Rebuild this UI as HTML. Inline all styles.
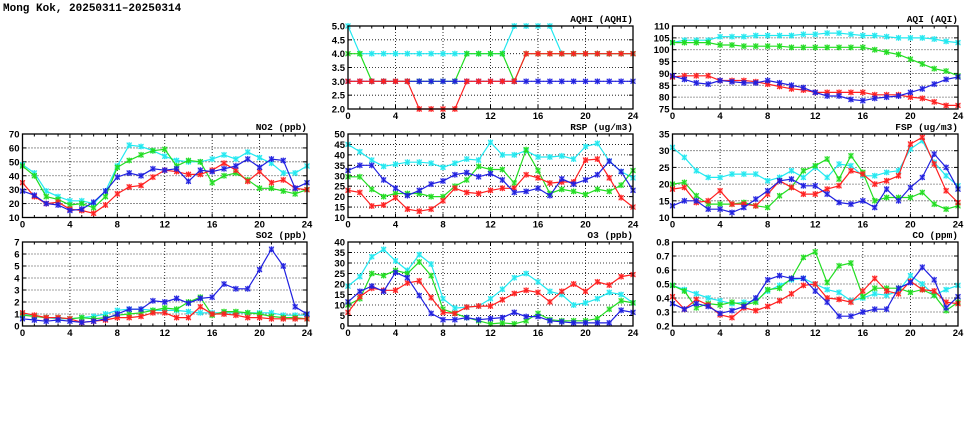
<!DOCTYPE html>
<html><head><meta charset="utf-8"><style>
body{margin:0;background:#fff;}
svg{display:block;font-family:"Liberation Sans",sans-serif;}
</style></head><body>
<svg id="s" width="975" height="447" xmlns="http://www.w3.org/2000/svg">
<text x="3" y="11" font-size="11" font-weight="bold" font-family="Liberation Mono, monospace">Mong Kok, 20250311–20250314</text>
</svg>
<script>
const C={c:'#22e8f0',g:'#22dd22',r:'#ff2020',b:'#2020e0'};
const P=[
{t:'AQHI (AQHI)',x0:348,x1:633,y0:26,y1:109,min:2,max:5,st:0.5,dec:1,ord:['c','g','b','r'],d:{
c:[5,4,4,4,4,4,4,4,4,4,4,4,4,4,5,5,5,5,4,4,4,4,4,4,4],
g:[4,4,3,3,3,3,3,3,3,3,4,4,4,4,3,4,4,4,4,4,4,4,4,4,4],
b:[3,3,3,3,3,3,3,3,3,3,3,3,3,3,3,3,3,3,3,3,3,3,3,3,3],
r:[3,3,3,3,3,3,2,2,2,2,3,3,3,3,3,4,4,4,4,4,4,4,4,4,4]}},
{t:'AQI (AQI)',x0:672.5,x1:958,y0:26,y1:109,min:75,max:110,st:5,dec:0,ord:['c','g','r','b'],d:{
c:[103,104,104,104,105.5,105.5,105.5,106,106,106,106,106.5,106.5,107,107,106.5,106,106,105.5,105,105,105,104.5,103.5,103],
g:[103,103,103,103,102,102,101.5,101.5,101.5,101.5,101,101,101,101,101,101,101,100,99,98,96,94,92,91,89],
r:[88.5,89,89,89,87,87,87,86.5,85.5,84.5,83.5,83,82,82,82,82,82,81,81,81,80,79.5,78,76.5,76.5],
b:[89,87.5,86,85.5,87,86.5,86,86,87,86,85,84,82,80.5,80.5,79,78.5,79.5,80,80.5,82,83.5,85.5,87.5,88.5]}},
{t:'NO2 (ppb)',x0:22.5,x1:307,y0:134,y1:217.5,min:10,max:70,st:10,dec:0,ord:['c','g','r','b'],d:{
c:[48,42,29,25,22,22,20,29,47,62,61,58,54,51,50,50,52,55,52,57,53,49,42,42,47],
g:[47,40,25,23,19,20,17,25,46,51,55,58,59,47,51,50,35,40,42,37,31,31,29,27,30],
r:[35,25,20,21,16,15,13,19,27,32,33,39,44,43,41,41,44,49,44,36,43,35,37,31,30],
b:[29,26,20,19,15,16,21,29,39,42,40,45,44,45,36,44,43,45,47,52,46,52,51,31,35]}},
{t:'RSP (ug/m3)',x0:348,x1:633,y0:134,y1:217.5,min:10,max:50,st:5,dec:0,ord:['c','g','r','b'],d:{
c:[45,41.5,37.5,34.5,35.5,36.5,36.5,36,34,36,38,37.5,46,40,40,42,39,39,39.5,38,44,45.5,37,32,29],
g:[29.5,29.5,23.5,20,21.5,21.5,21.5,20,20,25,28,34.5,33,33,26.5,42.5,32.5,21.5,23.5,22.5,21,23.5,22.5,25.5,32.5],
r:[23,22,15.5,16,19.5,14,13,14,18,24,22,21.5,23,24,24,30.5,29,26.5,27,27,37.5,38,29,19.5,15],
b:[32.5,35,35,28,24,20.5,23,26,27.5,30.5,31.5,29.5,31,28,22,22.5,24,20.5,28.5,26,28,30.5,37,32,23]}},
{t:'FSP (ug/m3)',x0:672.5,x1:958,y0:134,y1:217.5,min:10,max:35,st:5,dec:0,ord:['c','g','r','b'],d:{
c:[31,28,24,22,22,23,23,23,21,22,24,22,25,22,26,25.5,22.5,22.5,23.5,24,30.5,33,26.5,22.5,19.5],
g:[20,20.5,16.5,14,14,14,14.5,13.5,13,16.5,19,24,25.5,27.5,21.5,28.5,23.5,15,16,16,16,17.5,14,12.5,13.5],
r:[18.5,19,14.5,15,18,14,14,13.5,17,21,19,17,17,18.5,19.5,24,23,20,21,22.5,32,34,26,18,14.5],
b:[13.5,15,15,12.5,12.5,11.5,13,15.5,18,21,21.5,19.5,19.5,17,14.5,14,15,13,18.5,15,19,22,29,25,18.5]}},
{t:'SO2 (ppb)',x0:22.5,x1:307,y0:242,y1:326,min:0,max:7,st:1,dec:0,ord:['c','g','r','b'],d:{
c:[1,0.8,0.7,0.6,0.6,0.7,0.8,1.0,1.3,1.4,1.4,1.3,1.3,1.3,1.2,1.1,1.1,1.1,1.1,1.1,1.1,1.1,0.9,0.9,0.9],
g:[0.9,0.8,0.7,0.7,0.6,0.7,0.6,0.7,0.9,1.0,1.1,1.3,1.5,1.4,2.0,2.4,0.9,1.2,1.2,1.1,1.0,0.8,0.7,0.7,0.6],
r:[1.1,0.9,0.7,0.7,0.6,0.3,0.4,0.5,0.7,0.7,0.8,1.1,1.1,0.7,0.7,1.6,1.0,1.0,0.9,0.7,0.7,0.6,0.6,0.6,0.6],
b:[0.6,0.5,0.4,0.5,0.4,0.3,0.4,0.6,1.0,1.4,1.4,2.1,2.0,2.3,1.9,2.3,2.4,3.5,3.1,3.1,4.7,6.4,5.0,1.6,1.0]}},
{t:'O3 (ppb)',x0:348,x1:633,y0:242,y1:326,min:0,max:40,st:5,dec:0,ord:['c','g','r','b'],d:{
c:[19,23.5,33,36.5,31,26.5,34,29.5,13,8.5,9,9.5,13,17.5,23,25,21,16.5,15,10,11,13,16,15,11],
g:[10,13,25,24,26.5,25,30.5,24,8,6,4,2.5,1,1.5,1,2.5,6,3,2.5,2.5,2.5,3.5,8,12,11],
r:[6.5,14,18,17,17,20.5,21.5,13.5,6.5,6,9,9.5,9.5,12.5,15.5,17,16,11.5,16.5,20,16.5,21,19.5,23.5,24.5],
b:[11.5,16.5,19,16.5,25.5,23,14.5,6,3,3,4,3,3.5,4,6.5,4.5,4.5,2.5,2,1.5,1.5,1.5,1.5,7.5,6.5]}},
{t:'CO (ppm)',x0:672.5,x1:958,y0:242,y1:326,min:0.2,max:0.8,st:0.1,dec:1,ord:['c','g','r','b'],d:{
c:[.49,.46,.43,.40,.38,.36,.37,.38,.45,.49,.53,.54,.50,.46,.44,.38,.40,.43,.42,.45,.56,.50,.42,.46,.49],
g:[.49,.45,.33,.36,.35,.37,.35,.37,.46,.47,.54,.69,.73,.51,.63,.65,.41,.47,.47,.47,.44,.46,.42,.31,.37],
r:[.41,.32,.39,.35,.28,.26,.33,.31,.34,.38,.43,.49,.50,.40,.39,.37,.45,.54,.45,.43,.52,.46,.45,.37,.36],
b:[.36,.32,.36,.34,.29,.31,.34,.40,.53,.56,.54,.54,.45,.37,.27,.27,.30,.32,.32,.47,.51,.62,.53,.33,.41]}}
];
let h='';
P.forEach((p,i)=>{
 const W=p.x1-p.x0,H=p.y1-p.y0;
 const X=t=>p.x0+t*W/24, Y=v=>p.y1-(v-p.min)/(p.max-p.min)*H;
 h+=`<clipPath id="k${i}"><rect x="${p.x0-3}" y="${p.y0-3}" width="${W+6}" height="${H+6}"/></clipPath>`;
 // grid
 for(let t=4;t<24;t+=4){const x=X(t);h+=`<line x1="${x}" y1="${p.y0}" x2="${x}" y2="${p.y1}" stroke="#000" stroke-width="0.8" stroke-dasharray="1,2"/>`;}
 const n=Math.round((p.max-p.min)/p.st);
 for(let k=0;k<=n;k++){const v=p.min+k*p.st,y=Y(v);
  if(k>0&&k<n)h+=`<line x1="${p.x0}" y1="${y}" x2="${p.x1}" y2="${y}" stroke="#000" stroke-width="0.8" stroke-dasharray="1,2"/>`;
  h+=`<line x1="${p.x0}" y1="${y}" x2="${p.x0+4}" y2="${y}" stroke="#000"/><line x1="${p.x1-4}" y1="${y}" x2="${p.x1}" y2="${y}" stroke="#000"/>`;
  h+=`<text x="${p.x0-3}" y="${y+3.5}" font-size="9.5" font-weight="bold" text-anchor="end">${v.toFixed(p.dec)}</text>`;}
 for(let t=0;t<=24;t++){const x=X(t),l=t%4==0?4:2.5;
  h+=`<line x1="${x}" y1="${p.y1}" x2="${x}" y2="${p.y1-l}" stroke="#000"/><line x1="${x}" y1="${p.y0}" x2="${x}" y2="${p.y0+l}" stroke="#000"/>`;
  if(t%4==0)h+=`<text x="${x}" y="${p.y1+10}" font-size="9.5" font-weight="bold" text-anchor="middle">${t}</text>`;}
 h+=`<text x="${p.x1}" y="${p.y0-4}" font-size="9.5" font-weight="bold" text-anchor="end" font-family="Liberation Mono, monospace">${p.t}</text>`;
 h+=`<g clip-path="url(#k${i})">`;
 p.ord.forEach(s=>{const c=C[s],a=p.d[s];
  h+=`<polyline fill="none" stroke="${c}" stroke-width="1.2" points="${a.map((v,t)=>X(t).toFixed(1)+','+Y(v).toFixed(1)).join(' ')}"/>`;
  a.forEach((v,t)=>{const x=X(t),y=Y(v);
   h+=`<rect x="${x-2.5}" y="${y-2.5}" width="5" height="5" fill="${c}" fill-opacity="0.45"/><path d="M${x-2.5},${y-2.5}L${x+2.5},${y+2.5}M${x+2.5},${y-2.5}L${x-2.5},${y+2.5}M${x},${y-3}V${y+3}" stroke="${c}" stroke-width="1"/>`;});
 });
 h+=`</g><rect x="${p.x0}" y="${p.y0}" width="${W}" height="${H}" fill="none" stroke="#000" stroke-width="1.3"/>`;
});
document.getElementById('s').insertAdjacentHTML('beforeend',h);
</script>
</body></html>
